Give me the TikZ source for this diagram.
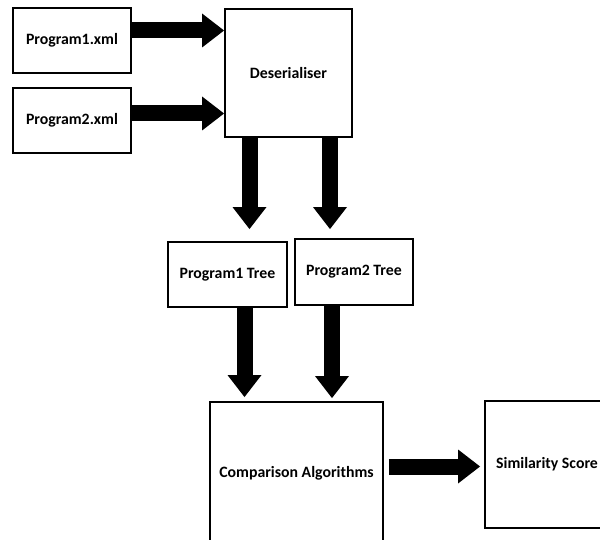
\documentclass[tikz,border=0pt]{standalone}
\usepackage{fontspec}
\setmainfont{Carlito}
\usetikzlibrary{arrows.meta}
\begin{document}
\begin{tikzpicture}[x=1pt,y=-1pt,
  stage/.style={draw=black, line width=1.9pt, fill=white, inner sep=0pt,
    font=\fontsize{15.8}{18}\selectfont\bfseries},
  blockarrow/.style={line width=16pt, draw=black,
    -{Triangle[length=22pt,width=34pt,line width=0pt]}}]
\fill[white] (0,0) rectangle (600,540);
\useasboundingbox (0,0) rectangle (600,540);
\begin{scope}
\clip (0,0) rectangle (600,540);
% stages of the pipeline
\node[stage, minimum width=118pt, minimum height=65pt] (p1) at (72,40.5) {Program1.xml};
\node[stage, minimum width=118pt, minimum height=65pt] (p2) at (72,120.5) {Program2.xml};
\node[stage, minimum width=127pt, minimum height=128pt] (des) at (288.5,73) {Deserialiser};
\node[stage, minimum width=119pt, minimum height=65pt] (t1) at (227.5,274.5) {Program1 Tree};
\node[stage, minimum width=118pt, minimum height=66pt] (t2) at (354,272) {Program2 Tree};
\node[stage, minimum width=173pt, minimum height=142pt] (comp) at (296.5,473) {Comparison Algorithms};
\node[stage, minimum width=124pt, minimum height=127pt] (sim) at (547,464.5) {Similarity Score};

% anchor points for the block arrows
\coordinate (x1) at ([yshift=10pt]p1.east);
\coordinate (x2) at ([yshift=7pt]p2.east);
\coordinate (d1) at ([xshift=-39pt]des.south);
\coordinate (d2) at ([xshift=41.5pt]des.south);
\coordinate (s1) at ([xshift=17pt]t1.south);
\coordinate (s2) at ([xshift=-22pt]t2.south);
\coordinate (c1) at ([yshift=6.5pt]comp.east);

% block arrows
\draw[blockarrow] (x1) -- (x1 -| des.west);
\draw[blockarrow] (x2) -- (x2 -| des.west);
\draw[blockarrow, shorten >=12pt] (d1) -- (d1 |- t1.north);
\draw[blockarrow, shorten >=9pt] (d2) -- (d2 |- t2.north);
\draw[blockarrow, shorten >=4pt] (s1) -- (s1 |- comp.north);
\draw[blockarrow, shorten >=3pt] (s2) -- (s2 |- comp.north);
\draw[blockarrow, shorten <=5pt, shorten >=4pt] (c1) -- (c1 -| sim.west);
\end{scope}
\end{tikzpicture}
\end{document}
